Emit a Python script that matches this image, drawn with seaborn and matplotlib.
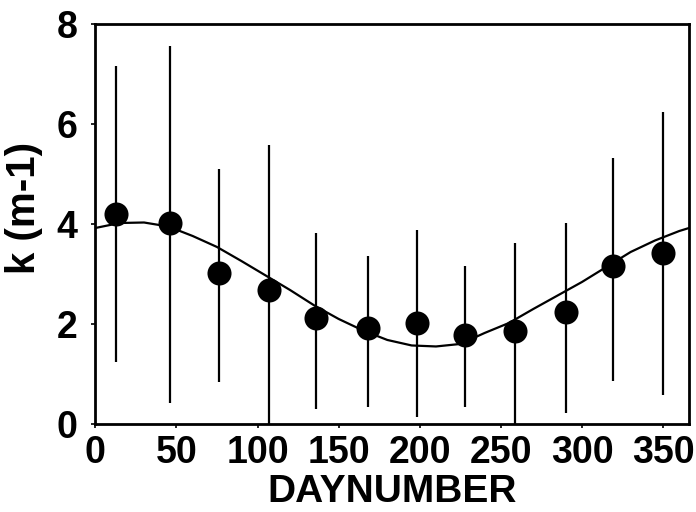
import matplotlib
matplotlib.use("Agg")
import matplotlib.pyplot as plt
import numpy as np
import pandas as pd
import seaborn as sns

# Monthly mean attenuation with ranges
days = [13, 46, 76, 107, 136, 168, 198, 228, 259, 290, 319, 350]
k_mean = [4.20, 4.03, 3.02, 2.68, 2.11, 1.91, 2.01, 1.78, 1.86, 2.23, 3.16, 3.42]
k_high = [7.16, 7.56, 5.10, 5.58, 3.82, 3.36, 3.88, 3.16, 3.62, 4.02, 5.32, 6.24]
k_low = [1.24, 0.42, 0.84, 0.00, 0.30, 0.34, 0.14, 0.34, 0.00, 0.22, 0.86, 0.58]

# Fitted seasonal curve, sampled from the figure
fit_days = [0, 15, 30, 45, 60, 75, 90, 105, 120, 135, 150, 165, 180, 195,
            210, 225, 240, 255, 270, 285, 300, 315, 330, 345, 360, 366]
fit_k = [3.92, 4.02, 4.03, 3.95, 3.76, 3.54, 3.26, 2.97, 2.68, 2.37, 2.10,
         1.87, 1.68, 1.57, 1.55, 1.60, 1.82, 2.02, 2.30, 2.57, 2.84, 3.14,
         3.44, 3.67, 3.86, 3.92]

pts = pd.DataFrame({'day': days, 'k': k_mean, 'lo': k_low, 'hi': k_high})
fit = pd.DataFrame({'day': fit_days, 'k': fit_k})

sns.set_style("ticks")
plt.rcParams['font.family'] = ['Liberation Sans', 'DejaVu Sans']
plt.rcParams['font.weight'] = 'bold'
for key in ['text.color', 'axes.labelcolor', 'xtick.color', 'ytick.color', 'axes.edgecolor']:
    plt.rcParams[key] = 'black'

fig = plt.figure(figsize=(6.96, 5.12), dpi=100)
ax = fig.add_axes([0.137, 0.172, 0.853, 0.781])

# range bars
ax.vlines(pts['day'], pts['lo'], pts['hi'], color='black', linewidth=1.6, zorder=2)
sns.lineplot(data=fit, x='day', y='k', color='black', linewidth=1.6, ax=ax, zorder=3)
sns.scatterplot(data=pts, x='day', y='k', color='black', s=300, edgecolor='black',
                linewidth=0, ax=ax, zorder=4)

ax.set_xlim(0, 366)
ax.set_ylim(0, 8)
ax.set_xticks(range(0, 351, 50))
ax.set_yticks(range(0, 9, 2))
ax.tick_params(axis='x', labelsize=27, length=3, width=1.2, pad=5)
ax.tick_params(axis='y', labelsize=27, length=3, width=1.2, pad=10)
for lab in ax.get_xticklabels() + ax.get_yticklabels():
    lab.set_fontweight('bold')
ax.set_xlabel('DAYNUMBER', fontsize=28, fontweight='bold', labelpad=2)
ax.set_ylabel('k (m-1)', fontsize=29, fontweight='bold')
ax.yaxis.set_label_coords(-0.088, 0.54)
for side in ['top', 'right', 'bottom', 'left']:
    ax.spines[side].set_visible(True)
    ax.spines[side].set_linewidth(2)

fig.savefig('out.png', dpi=100)
